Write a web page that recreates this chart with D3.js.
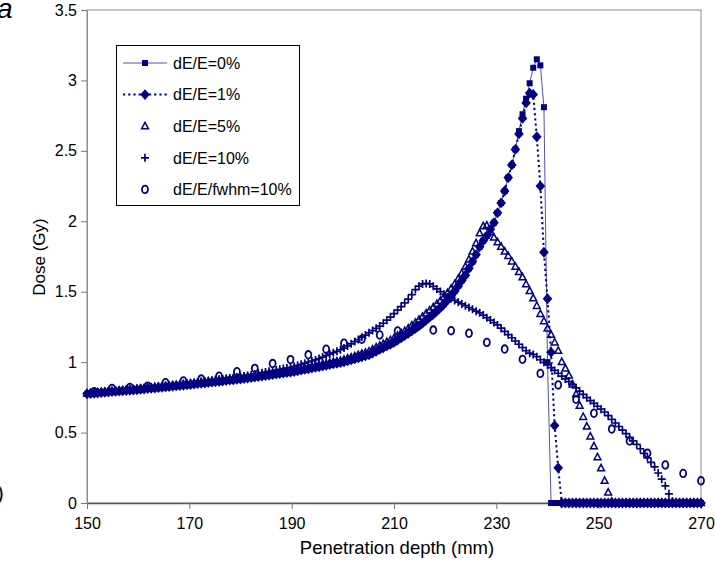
<!DOCTYPE html>
<html>
<head>
<meta charset="utf-8">
<script src="https://cdn.jsdelivr.net/npm/d3@7"></script>
<style>
  html, body { margin: 0; padding: 0; background: #fff; }
  svg { display: block; font-family: "Liberation Sans", Arial, sans-serif; }
</style>
</head>
<body>
<svg id="chart" width="715" height="575"></svg>
<script>
// Depth dose curves for a proton beam with different energy spreads.
const seriesNames = ["dE/E=0%", "dE/E=1%", "dE/E=5%", "dE/E=10%", "dE/E/fwhm=10%"];

// Depth samples (mm): 173 bins spanning 150-270 mm.
const depth = d3.range(173).map(i => 150 + i * 120 / 172);

// Dose (Gy) per depth sample.
const dose0 = [
  0.775,0.777,0.779,0.781,0.783,0.785,0.788,0.790,0.792,0.794,
  0.796,0.798,0.800,0.802,0.804,0.807,0.809,0.812,0.814,0.816,
  0.819,0.821,0.824,0.826,0.829,0.831,0.833,0.836,0.838,0.841,
  0.844,0.847,0.849,0.852,0.855,0.858,0.860,0.863,0.866,0.869,
  0.872,0.874,0.877,0.880,0.884,0.887,0.890,0.894,0.897,0.901,
  0.904,0.908,0.911,0.915,0.918,0.922,0.925,0.929,0.933,0.938,
  0.943,0.948,0.953,0.958,0.963,0.967,0.972,0.977,0.982,0.987,
  0.992,0.997,1.002,1.009,1.016,1.023,1.030,1.037,1.044,1.052,
  1.065,1.077,1.090,1.102,1.115,1.127,1.140,1.156,1.173,1.189,
  1.205,1.222,1.240,1.257,1.277,1.298,1.319,1.340,1.363,1.387,
  1.412,1.441,1.472,1.504,1.541,1.580,1.617,1.666,1.714,1.764,
  1.819,1.862,1.897,1.943,1.990,2.060,2.130,2.215,2.310,2.400,
  2.510,2.640,2.760,2.870,2.980,3.090,3.150,3.107,2.810,1.000,
  0,0,0,0,0,0,0,0,0,0,
  0,0,0,0,0,0,0,0,0,0,
  0,0,0,0,0,0,0,0,0,0,
  0,0,0,0,0,0,0,0,0,0,
  0,0,0
];

const dose1 = [
  0.775,0.777,0.779,0.781,0.783,0.785,0.788,0.790,0.792,0.794,
  0.796,0.798,0.800,0.802,0.804,0.807,0.809,0.812,0.814,0.816,
  0.819,0.821,0.824,0.826,0.829,0.831,0.833,0.836,0.838,0.841,
  0.844,0.847,0.849,0.852,0.855,0.858,0.860,0.863,0.866,0.869,
  0.872,0.874,0.877,0.880,0.884,0.887,0.890,0.894,0.897,0.901,
  0.904,0.908,0.911,0.915,0.918,0.922,0.925,0.929,0.933,0.938,
  0.943,0.948,0.953,0.958,0.963,0.967,0.972,0.977,0.982,0.987,
  0.992,0.997,1.002,1.009,1.016,1.023,1.030,1.037,1.044,1.052,
  1.065,1.077,1.090,1.102,1.115,1.127,1.140,1.156,1.173,1.189,
  1.205,1.222,1.240,1.257,1.277,1.298,1.319,1.340,1.363,1.387,
  1.412,1.441,1.472,1.504,1.541,1.580,1.617,1.666,1.714,1.764,
  1.819,1.862,1.897,1.943,1.990,2.060,2.130,2.215,2.310,2.400,
  2.510,2.620,2.730,2.840,2.910,2.900,2.600,2.250,1.780,1.450,
  1.070,0.550,0.250,0,0,0,0,0,0,0,
  0,0,0,0,0,0,0,0,0,0,
  0,0,0,0,0,0,0,0,0,0,
  0,0,0,0,0,0,0,0,0,0,
  0,0,0
];

const dose5 = [
  0.778,0.780,0.782,0.785,0.787,0.789,0.791,0.794,0.796,0.798,
  0.800,0.803,0.805,0.807,0.809,0.812,0.814,0.817,0.819,0.822,
  0.824,0.827,0.829,0.832,0.834,0.837,0.839,0.842,0.844,0.847,
  0.850,0.853,0.856,0.859,0.862,0.864,0.867,0.870,0.873,0.876,
  0.879,0.882,0.885,0.888,0.892,0.895,0.899,0.902,0.906,0.910,
  0.913,0.917,0.921,0.924,0.928,0.932,0.935,0.939,0.944,0.949,
  0.954,0.959,0.964,0.970,0.975,0.980,0.985,0.990,0.996,1.001,
  1.006,1.011,1.018,1.026,1.034,1.043,1.051,1.060,1.068,1.077,
  1.090,1.104,1.117,1.130,1.143,1.157,1.170,1.188,1.205,1.222,
  1.240,1.260,1.281,1.301,1.323,1.346,1.368,1.390,1.413,1.437,
  1.462,1.491,1.522,1.554,1.592,1.631,1.678,1.729,1.786,1.844,
  1.915,1.965,1.970,1.925,1.885,1.852,1.820,1.786,1.754,1.716,
  1.678,1.640,1.603,1.554,1.505,1.454,1.400,1.343,1.291,1.240,
  1.195,1.141,1.081,1.002,0.955,0.905,0.842,0.772,0.692,0.612,
  0.543,0.473,0.403,0.326,0.247,0.158,0.075,0.010,0,0,
  0,0,0,0,0,0,0,0,0,0,
  0,0,0,0,0,0,0,0,0,0,
  0,0,0
];

const dose10 = [
  0.780,0.782,0.785,0.787,0.789,0.792,0.794,0.796,0.799,0.801,
  0.803,0.805,0.808,0.810,0.812,0.815,0.818,0.820,0.823,0.826,
  0.828,0.831,0.834,0.837,0.839,0.842,0.845,0.847,0.850,0.853,
  0.856,0.859,0.862,0.866,0.869,0.872,0.875,0.878,0.881,0.884,
  0.887,0.890,0.894,0.897,0.902,0.906,0.911,0.916,0.921,0.925,
  0.930,0.935,0.940,0.944,0.949,0.954,0.959,0.963,0.970,0.978,
  0.985,0.993,1.001,1.008,1.016,1.025,1.036,1.046,1.057,1.067,
  1.077,1.088,1.100,1.115,1.130,1.146,1.160,1.176,1.192,1.208,
  1.224,1.240,1.256,1.276,1.298,1.320,1.345,1.369,1.394,1.421,
  1.448,1.480,1.515,1.539,1.555,1.559,1.555,1.538,1.520,1.501,
  1.482,1.463,1.451,1.438,1.426,1.413,1.401,1.388,1.375,1.362,
  1.350,1.334,1.316,1.299,1.281,1.264,1.241,1.218,1.195,1.173,
  1.150,1.127,1.104,1.081,1.064,1.055,1.039,1.017,0.999,0.980,
  0.961,0.941,0.921,0.901,0.881,0.862,0.841,0.818,0.794,0.771,
  0.748,0.727,0.707,0.687,0.666,0.646,0.620,0.594,0.568,0.543,
  0.517,0.492,0.466,0.441,0.416,0.385,0.353,0.321,0.289,0.256,
  0.213,0.169,0.122,0.065,0.015,0,0,0,0,0,
  0,0,0
];

// Gaussian (fwhm) spread: every fifth depth sample, starting at the third.
const fwhmDepth = depth.filter((d, i) => i % 5 === 2);
const fwhmDose = [
  0.790,0.814,0.820,0.830,0.854,0.866,0.880,0.900,0.932,0.956,
  0.990,1.018,1.052,1.092,1.134,1.162,1.193,1.221,1.245,1.228,
  1.223,1.205,1.140,1.093,1.020,0.920,0.838,0.736,0.637,0.525,
  0.440,0.353,0.270,0.210,0.158
];

const xTicks = [150, 170, 190, 210, 230, 250, 270];
const yTicks = [0, 0.5, 1, 1.5, 2, 2.5, 3, 3.5];

const navy = "#000080";
const svg = d3.select("#chart");

const x = d3.scaleLinear().domain([150, 270]).range([87, 701]);
const y = d3.scaleLinear().domain([0, 3.5]).range([503, 10]);

// Panel letter and the clipped neighbouring label at the left edge
svg.append("text").attr("x", -3).attr("y", 18)
  .attr("font-size", 28).attr("font-style", "italic").text("a");
svg.append("text").attr("x", -3).attr("y", 500)
  .attr("font-size", 20).attr("fill", "#000").text(")");

// Plot frame
svg.append("rect").attr("x", 87).attr("y", 10)
  .attr("width", 701 - 87).attr("height", 503 - 10)
  .attr("fill", "none").attr("stroke", "#8c8c8c").attr("stroke-width", 1);

// Axes
const xAxis = svg.append("g").attr("transform", "translate(0,503)")
  .call(d3.axisBottom(x).tickValues(xTicks).tickSize(6).tickSizeOuter(0).tickFormat(d3.format("d")));
xAxis.select(".domain").attr("stroke", "#555").attr("stroke-width", 1.6);
xAxis.selectAll(".tick line").attr("stroke", "#777");
xAxis.selectAll(".tick text").attr("font-size", 16).attr("font-family", "Liberation Sans, Arial, sans-serif")
  .attr("fill", "#000").attr("dy", "1.05em");

const yAxis = svg.append("g").attr("transform", "translate(87,0)")
  .call(d3.axisLeft(y).tickValues(yTicks).tickSize(6).tickSizeOuter(0).tickFormat(d => d3.format("")(d)));
yAxis.select(".domain").attr("stroke", "#8c8c8c");
yAxis.selectAll(".tick line").attr("stroke", "#777");
yAxis.selectAll(".tick text").attr("font-size", 16).attr("font-family", "Liberation Sans, Arial, sans-serif")
  .attr("fill", "#000").attr("x", -10);

// Axis titles
svg.append("text").attr("x", 397).attr("y", 554).attr("text-anchor", "middle")
  .attr("font-size", 18.5).text("Penetration depth (mm)");
svg.append("text").attr("transform", "translate(45,257) rotate(-90)")
  .attr("text-anchor", "middle").attr("font-size", 17).text("Dose (Gy)");

// Marker shapes
const marker = {
  square: g => g.append("rect").attr("x", -3).attr("y", -3).attr("width", 6).attr("height", 6).attr("fill", navy),
  diamond: g => g.append("path").attr("d", "M0,-5.4L4.8,0L0,5.4L-4.8,0Z").attr("fill", navy),
  triangle: g => g.append("path").attr("d", "M0,-3.8L3.4,2.6L-3.4,2.6Z").attr("fill", "none").attr("stroke", navy).attr("stroke-width", 1.5),
  plus: g => g.append("path").attr("d", "M-4,0H4M0,-4V4").attr("stroke", navy).attr("stroke-width", 1.7),
  circle: g => g.append("ellipse").attr("rx", 3).attr("ry", 3.8).attr("fill", "none").attr("stroke", navy).attr("stroke-width", 1.8)
};

const series = [
  { name: seriesNames[0], xs: depth, ys: dose0, shape: "square", line: { stroke: "#5252b0", width: 1, dash: null } },
  { name: seriesNames[1], xs: depth, ys: dose1, shape: "diamond", line: { stroke: navy, width: 2, dash: "2.2,3" } },
  { name: seriesNames[2], xs: depth, ys: dose5, shape: "triangle", line: null },
  { name: seriesNames[3], xs: depth, ys: dose10, shape: "plus", line: null },
  { name: seriesNames[4], xs: fwhmDepth, ys: fwhmDose, shape: "circle", line: null }
];

const plot = svg.append("g");
series.forEach(s => {
  const pts = s.xs.map((d, i) => [d, s.ys[i]]);
  const g = plot.append("g");
  if (s.line) {
    g.append("path").datum(pts)
      .attr("d", d3.line().x(p => x(p[0])).y(p => y(p[1])))
      .attr("fill", "none").attr("stroke", s.line.stroke)
      .attr("stroke-width", s.line.width)
      .attr("stroke-dasharray", s.line.dash);
  }
  g.selectAll("g.pt").data(pts).join("g").attr("class", "pt")
    .attr("transform", p => `translate(${x(p[0])},${y(p[1])})`)
    .each(function () { marker[s.shape](d3.select(this)); });
});

// Legend
const legend = svg.append("g");
legend.append("rect").attr("x", 116.5).attr("y", 45.5).attr("width", 183).attr("height", 160)
  .attr("fill", "#fff").attr("stroke", "#000").attr("stroke-width", 1);
series.forEach((s, k) => {
  const ly = 63 + k * 31.6;
  if (s.line) {
    legend.append("line").attr("x1", 123).attr("x2", 167).attr("y1", ly).attr("y2", ly)
      .attr("stroke", s.line.stroke).attr("stroke-width", s.line.width)
      .attr("stroke-dasharray", s.line.dash);
  }
  marker[s.shape](legend.append("g").attr("transform", `translate(145,${ly})`));
  legend.append("text").attr("x", 173).attr("y", ly).attr("dy", "0.36em")
    .attr("font-size", 16).text(s.name);
});
</script>
</body>
</html>
